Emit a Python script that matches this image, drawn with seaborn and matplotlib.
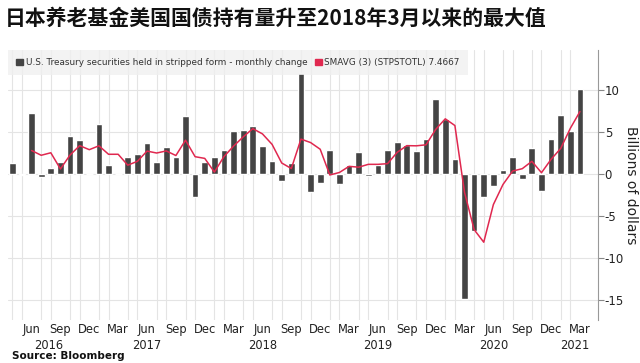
import numpy as np
import pandas as pd
import matplotlib
matplotlib.use("Agg")
import matplotlib.pyplot as plt
import matplotlib.transforms as mtransforms
from matplotlib.patches import Patch
import seaborn as sns

# monthly change, Apr 2016 .. Mar 2021 (billions of dollars)
changes = [1.3, -0.15, 7.3, -0.4, 0.75, 1.5, 4.6, 4.1, 0.05,
           6.0, 1.05, 0.05, 2.1, 2.45, 3.7, 1.4, 3.2, 2.05, 6.9, -2.7, 1.45,
           2.0, 2.85, 5.2, 5.3, 5.8, 3.3, 1.55, -0.85, 1.3, 12.1, -2.1, -1.1,
           2.9, -1.2, 1.1, 2.6, -0.2, 1.1, 2.85, 3.85, 3.5, 2.8, 4.2, 9.0,
           6.6, 1.8, -14.9, -6.75, -2.7, -1.45, 0.45, 2.1, -0.6, 3.1, -2.0, 4.2,
           7.0, 5.2, 10.2]
# SMAVG(3) line values, starting Jun 2016
smavg = [2.82, 2.25, 2.55, 0.62, 2.28, 3.4, 2.92,
         3.38, 2.37, 2.37, 1.07, 1.53, 2.75, 2.52, 2.77, 2.22, 4.05, 2.08, 1.88,
         0.25, 2.1, 3.35, 4.45, 5.43, 4.8, 3.55, 1.33, 0.67, 4.18, 3.77, 2.97,
         -0.1, 0.2, 0.93, 0.83, 1.17, 1.17, 1.25, 2.6, 3.4, 3.38, 3.5, 5.33,
         6.6, 5.8, -2.17, -6.62, -8.12, -3.63, -1.23, 0.37, 0.65, 1.53, 0.17, 1.77,
         3.07, 5.47, 7.47]
month_labels = ["Jun", "Sep", "Dec", "Mar"]
years = ["2016", "2017", "2018", "2019", "2020", "2021"]
year_pos = [3.8, 14, 26, 38, 50, 58.5]
y_ticks = [10, 5, 0, -5, -10, -15]

bars = pd.DataFrame({"pos": np.arange(len(changes)), "change": changes})
line = pd.DataFrame({"pos": np.arange(2, 2 + len(smavg)), "sma": smavg})

sns.set_style("white")
plt.rcParams["font.family"] = ["DejaVu Sans"]
plt.rcParams["axes.unicode_minus"] = False

fig = plt.figure(figsize=(6.4, 3.63), dpi=100)
ax = fig.add_axes([0.0125, 0.1185, 0.9215, 0.7435])

bar_color = "#444444"
line_color = "#e0284f"
sns.barplot(data=bars, x="pos", y="change", color=bar_color, width=0.7,
            saturation=1, ax=ax, zorder=3)
sns.lineplot(data=line, x="pos", y="sma", color=line_color, lw=1.1, ax=ax, zorder=4)

ax.set_xlim(-0.45, 60.85)
ax.set_ylim(-17.4, 14.8)

# grid
ax.set_xticks(np.arange(len(changes)), minor=True)
ax.grid(which="minor", axis="x", color="#e4e4e4", lw=0.8, zorder=0)
ax.set_yticks(y_ticks)
ax.grid(which="major", axis="y", color="#e4e4e4", lw=0.8, zorder=0)

xt = np.arange(2, len(changes), 3)
ax.set_xticks(xt)
ax.set_xticklabels([month_labels[k % 4] for k in range(len(xt))])
ax.tick_params(axis="x", which="both", length=0, labelsize=8.3,
               labelcolor="#222222", pad=2)

ax.yaxis.tick_right()
ax.yaxis.set_label_position("right")
ax.set_yticklabels([str(v) for v in y_ticks])
ax.tick_params(axis="y", length=4, color="#888888", labelsize=8.5,
               labelcolor="#222222", pad=1, direction="out")
ax.set_xlabel("")
ax.set_ylabel("Billions of dollars", rotation=270, labelpad=10,
              fontsize=10, color="#222222")

for s in ["top", "left", "bottom"]:
    ax.spines[s].set_visible(False)
ax.spines["right"].set_color("#999999")
ax.spines["right"].set_linewidth(0.8)

trans = mtransforms.blended_transform_factory(ax.transData, ax.transAxes)
for yr, p in zip(years, year_pos):
    ax.text(p, -0.07, yr, transform=trans, ha="center", va="top",
            fontsize=8.3, color="#222222")

handles = [Patch(color=bar_color), Patch(color=line_color)]
leg = ax.legend(handles, ["U.S. Treasury securities held in stripped form - monthly change",
                          "SMAVG (3) (STPSTOTL) 7.4667"],
                loc="upper left", ncol=2, fontsize=6.4, frameon=True,
                handlelength=0.8, handleheight=0.8, handletextpad=0.3,
                columnspacing=0.8, borderaxespad=0.0, borderpad=0.9)
leg.get_frame().set_facecolor("#f0f0f0")
leg.get_frame().set_edgecolor("none")
leg.get_frame().set_boxstyle("square", pad=0)
for t in leg.get_texts():
    t.set_color("#333333")

fig.text(0.008, 0.95, "日本养老基金美国国债持有量升至2018年3月以来的最大值",
         family=["Noto Sans CJK SC", "DejaVu Sans"], fontweight="bold",
         fontsize=15, ha="left", va="center", color="#111111")
fig.text(0.018, 0.018, "Source: Bloomberg", fontsize=7.5, fontweight="bold",
         ha="left", va="center", color="#111111")

fig.savefig("out.png", dpi=100)
